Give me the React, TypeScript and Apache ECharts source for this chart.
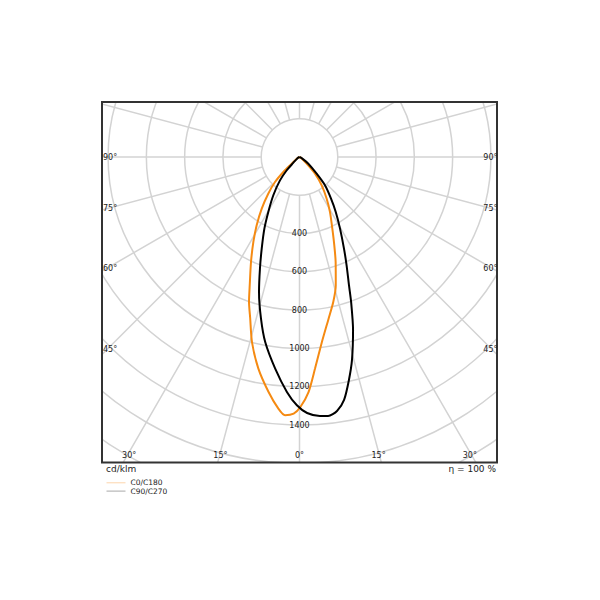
import React, { useEffect, useRef } from "react";
import * as echarts from "echarts";

// C0/C180 curve: gamma angle (deg, 0 = down, negative = left / C180 side) and intensity (cd/klm)
const c0Angles = [-90, -60, -49.3, -47.2, -44.4, -40.4, -36.2, -32.1, -28.5, -24.8, -21.2, -19.2, -17, -14.4, -11, -7.5, -4.8, -3.2, -1.3, 0.2, 2.2, 4.2, 6.9, 10.2, 13.1, 15.8, 19.0, 21.5, 24.6, 29.0, 33.1, 38.1, 42.9, 47.1, 58, 90];
const c0Values = [0, 15, 54, 115, 183, 252, 334, 421, 505, 604, 719, 802, 881, 998, 1126, 1238, 1319, 1351, 1341, 1306, 1229, 1108, 974, 858, 778, 696, 580, 496, 412, 328, 260, 188, 119, 51, 12, 0];

// C90/C270 curve
const c90Angles = [-90, -60, -47, -43.9, -39.9, -34.4, -29.6, -26.1, -22.4, -19.5, -16.7, -13.4, -10.5, -6.55, -3.07, -0.6, 1.7, 4.5, 6.3, 8.4, 10.4, 12.5, 14.5, 17.2, 19.6, 21.1, 23.5, 25.9, 29.5, 33.4, 37.1, 42.0, 45.8, 52.7, 62, 90];
const c90Values = [0, 12, 45, 96, 159, 242, 330, 417, 518, 619, 736, 868, 983, 1113, 1229, 1297, 1338, 1357, 1361, 1341, 1290, 1193, 1095, 946, 804, 718, 617, 532, 430, 344, 273, 199, 125, 58, 15, 0];

const seriesNames = ["C0/C180", "C90/C270"];
const radiusTicksShown = [400, 600, 800, 1000, 1200, 1400];
const sideAngleLabels = [90, 75, 60, 45];
const bottomAngles = [-30, -15, 0, 15, 30];
const bottomAngleLabels = ["30°", "15°", "0°", "15°", "30°"];
const unitLabel = "cd/klm";
const efficiencyLabel = "η = 100 %";

const FONT = "DejaVu Sans";

export default function App() {
  const ref = useRef<HTMLDivElement>(null);

  useEffect(() => {
    if (!ref.current) return;
    const chart = echarts.init(ref.current, null, { renderer: "svg" });

    const BOX = { left: 102, top: 102, right: 497, bottom: 462.5 };
    const CX = 299.5;
    const CY = 157;
    const SCALE = 268 / 1400;
    const RMAX = 2000;
    const R = RMAX * SCALE;
    const gridColor = "#d3d3d3";
    const textColor = "#222";

    const toRad = (d: number) => (d * Math.PI) / 180;
    const graphics: any[] = [];
    const white = { fill: "#fff", stroke: null };
    graphics.push({ type: "rect", z: 100, shape: { x: 0, y: 0, width: 600, height: BOX.top }, style: white, silent: true });
    graphics.push({ type: "rect", z: 100, shape: { x: 0, y: BOX.bottom, width: 600, height: 600 - BOX.bottom }, style: white, silent: true });
    graphics.push({ type: "rect", z: 100, shape: { x: 0, y: 0, width: BOX.left, height: 600 }, style: white, silent: true });
    graphics.push({ type: "rect", z: 100, shape: { x: BOX.right, y: 0, width: 600 - BOX.right, height: 600 }, style: white, silent: true });
    graphics.push({
      type: "rect",
      z: 101,
      shape: { x: BOX.left, y: BOX.top, width: BOX.right - BOX.left, height: BOX.bottom - BOX.top },
      style: { fill: null, stroke: "#333", lineWidth: 2 },
      silent: true,
    });

    const mkText = (text: string, x: number, y: number, align: string, size: number) => ({
      type: "text",
      z: 102,
      x,
      y,
      silent: true,
      style: {
        text,
        fill: textColor,
        fontSize: size,
        fontFamily: FONT,
        align,
        textAlign: align,
        verticalAlign: "middle",
        textVerticalAlign: "middle",
      },
    });

    const half = (BOX.right - BOX.left) / 2 - 5;
    sideAngleLabels.forEach((a) => {
      const y = CY + (half * Math.cos(toRad(a))) / Math.sin(toRad(a));
      graphics.push(mkText(a + "°", BOX.left + 1, y, "left", 8));
      graphics.push(mkText(a + "°", BOX.right + 0.5, y, "right", 8));
    });
    bottomAngles.forEach((a, i) => {
      const x = CX + (452 - CY) * Math.tan(toRad(a));
      graphics.push(mkText(bottomAngleLabels[i], x, 455, "center", 8));
    });
    graphics.push(mkText(unitLabel, 106, 468.5, "left", 9));
    graphics.push(mkText(efficiencyLabel, 496, 469, "right", 9));

    const hiddenAxis = {
      axisLine: { show: false },
      axisTick: { show: false },
      axisLabel: { show: false },
      splitLine: { show: false },
    };

    const toPairs = (angles: number[], values: number[]) => angles.map((a, i) => [values[i], a]);
    const noSymbol = { color: "rgba(0,0,0,0)", borderColor: "rgba(0,0,0,0)", borderWidth: 0, opacity: 0 };

    chart.setOption({
      animation: false,
      backgroundColor: "#fff",
      polar: [
        { center: [CX, CY], radius: [200 * SCALE, R] },
        { center: [CX, CY], radius: [0, R] },
      ],
      angleAxis: [
        {
          polarIndex: 0,
          type: "value",
          min: 0,
          max: 360,
          interval: 15,
          startAngle: -90,
          clockwise: false,
          axisLine: { show: false },
          axisTick: { show: false },
          axisLabel: { show: false },
          splitLine: { show: true, lineStyle: { color: gridColor, width: 1.5 } },
        },
        {
          polarIndex: 1,
          type: "value",
          min: -180,
          max: 180,
          startAngle: 90,
          clockwise: false,
          ...hiddenAxis,
        },
      ],
      radiusAxis: [
        {
          polarIndex: 0,
          type: "value",
          min: 200,
          max: RMAX,
          interval: 200,
          axisLine: { show: false },
          axisTick: { show: false },
          axisLabel: {
            show: true,
            margin: 0,
            align: "center",
            verticalAlign: "middle",
            fontSize: 8,
            fontFamily: FONT,
            color: textColor,
            formatter: (v: number) => (radiusTicksShown.indexOf(v) >= 0 ? String(v) : ""),
          },
          splitLine: { show: true, lineStyle: { color: gridColor, width: 1.5 } },
        },
        {
          polarIndex: 1,
          type: "value",
          min: 0,
          max: RMAX,
          ...hiddenAxis,
        },
      ],
      legend: {
        z: 200,
        orient: "vertical",
        left: 106,
        top: 478.8,
        padding: 0,
        itemGap: 0.3,
        itemWidth: 19,
        itemHeight: 8,
        selectedMode: false,
        itemStyle: noSymbol,
        textStyle: { fontSize: 7.5, fontFamily: FONT, color: textColor, lineHeight: 8 },
        data: [
          { name: seriesNames[0], lineStyle: { color: "#fdd5ab", width: 1 }, itemStyle: noSymbol },
          { name: seriesNames[1], lineStyle: { color: "#a8a8a8", width: 1 }, itemStyle: noSymbol },
        ],
      },
      series: [
        {
          name: seriesNames[0],
          type: "line",
          coordinateSystem: "polar",
          polarIndex: 1,
          symbol: "none",
          smooth: 0.25,
          lineStyle: { color: "#f58a12", width: 2 },
          itemStyle: { color: "#f58a12" },
          data: toPairs(c0Angles, c0Values),
          z: 5,
        },
        {
          name: seriesNames[1],
          type: "line",
          coordinateSystem: "polar",
          polarIndex: 1,
          symbol: "none",
          smooth: 0.25,
          lineStyle: { color: "#000", width: 2 },
          itemStyle: { color: "#000" },
          data: toPairs(c90Angles, c90Values),
          z: 5,
        },
      ],
      graphic: { elements: graphics },
    });

    return () => chart.dispose();
  }, []);

  return <div ref={ref} style={{ position: "fixed", left: 0, top: 0, width: 600, height: 600 }} />;
}
